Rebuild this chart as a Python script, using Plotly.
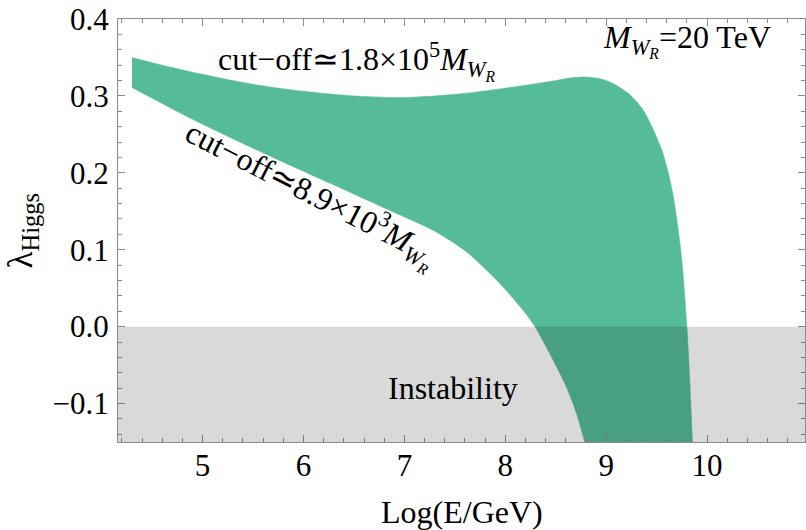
# Higgs quartic running band vs energy scale, M_WR = 20 TeV

import plotly.graph_objects as go

# upper edge of the band (cut-off ~ 1.8e5 M_WR)
upper_x = [4.30, 4.60, 5.00, 5.50, 6.00, 6.50, 7.00, 7.50, 8.00, 8.50, 8.65, 8.80, 8.95,
           9.07, 9.23, 9.37, 9.46, 9.55, 9.61, 9.66, 9.71, 9.75, 9.80, 9.83, 9.855, 9.872]
upper_y = [0.350, 0.340, 0.328, 0.315, 0.306, 0.300, 0.298, 0.302, 0.310, 0.320, 0.3235, 0.3245, 0.322,
           0.316, 0.302, 0.281, 0.258, 0.230, 0.203, 0.173, 0.130, 0.086, 0.000, -0.075, -0.150, -0.200]

# lower edge of the band (cut-off ~ 8.9e3 M_WR)
lower_x = [4.30, 4.88, 5.50, 6.27, 6.957, 7.287, 7.617, 7.947, 8.178, 8.294,
           8.44, 8.607, 8.706, 8.79, 8.90]
lower_y = [0.311, 0.271, 0.232, 0.186, 0.145, 0.125, 0.097, 0.056, 0.021, 0.000,
           -0.035, -0.079, -0.113, -0.151, -0.200]

x_range = [4.162, 10.97]
y_range = [-0.15, 0.4]
y_ticks = [-0.1, 0.0, 0.1, 0.2, 0.3, 0.4]
x_ticks = [5, 6, 7, 8, 9, 10]

GREEN = '#55BB99'
FRAME = '#8c8c8c'
FONT = 'Liberation Serif'

fig = go.Figure()

# lower edge first, then the upper edge filled back to it
fig.add_trace(go.Scatter(
    x=lower_x, y=lower_y, mode='lines',
    line=dict(color=GREEN, width=0.5, shape='spline', smoothing=0.8),
    hoverinfo='skip', showlegend=False
))
fig.add_trace(go.Scatter(
    x=upper_x, y=upper_y, mode='lines',
    fill='tonexty', fillcolor=GREEN,
    line=dict(color=GREEN, width=0.5, shape='spline', smoothing=0.8),
    hoverinfo='skip', showlegend=False
))

# instability region below zero
fig.add_shape(
    type='rect', xref='x domain', yref='y',
    x0=0, x1=1, y0=y_range[0], y1=0,
    fillcolor='rgba(0,0,0,0.15)', line=dict(width=0), layer='above'
)

txt = dict(family=FONT, size=32, color='black')
fig.add_annotation(x=6.53, y=0.345, showarrow=False, font=txt,
                   text='cut\u2212off\u22431.8\u00d710<sup>5</sup><i>M</i><sub><i>W<sub>R</sub></i></sub>')
fig.add_annotation(x=6.07, y=0.172, showarrow=False, font=txt, textangle=27,
                   text='cut\u2212off\u22438.9\u00d710<sup>3</sup><i>M</i><sub><i>W<sub>R</sub></i></sub>')
fig.add_annotation(x=9.80, y=0.372, showarrow=False, font=txt,
                   text='<i>M</i><sub><i>W<sub>R</sub></i></sub>=20 TeV')
fig.add_annotation(x=7.48, y=-0.080, showarrow=False, font=txt, text='Instability')

# axis titles
fig.add_annotation(x=0.5, y=0, xref='paper', yref='paper', yshift=-70,
                   xanchor='center', yanchor='middle', showarrow=False,
                   font=dict(family=FONT, size=32), text='Log(E/GeV)')
fig.add_annotation(x=0, y=0.5, xref='paper', yref='paper', xshift=-96,
                   xanchor='center', yanchor='middle', showarrow=False, textangle=-90,
                   font=dict(family=FONT, size=35), text='\u03bb<sub>Higgs</sub>')

axis_common = dict(
    showline=True, linecolor=FRAME, linewidth=1, mirror='allticks',
    ticks='inside', ticklen=7, tickcolor=FRAME, tickwidth=1,
    showgrid=False, zeroline=False, automargin=False,
    tickfont=dict(family=FONT, size=31, color='black'),
)

fig.update_layout(
    width=806, height=530,
    margin=dict(l=118, r=1, t=19, b=88),
    paper_bgcolor='white', plot_bgcolor='white',
    font=dict(family=FONT, color='black'),
    xaxis=dict(
        range=x_range, tickvals=x_ticks,
        minor=dict(dtick=0.2, tick0=0, ticks='inside', ticklen=4, tickcolor=FRAME),
        ticklabelstandoff=-4,
        **axis_common
    ),
    yaxis=dict(
        range=y_range, tickvals=y_ticks, tickformat='.1f',
        minor=dict(dtick=0.02, tick0=0, ticks='inside', ticklen=4, tickcolor=FRAME),
        ticklabelstandoff=2,
        **axis_common
    ),
)

# drop the browser's default body margin so the figure sits at the page corner
fig.write_html("out.html", config={'displayModeBar': False},
               post_script="document.body.style.margin='0';")
